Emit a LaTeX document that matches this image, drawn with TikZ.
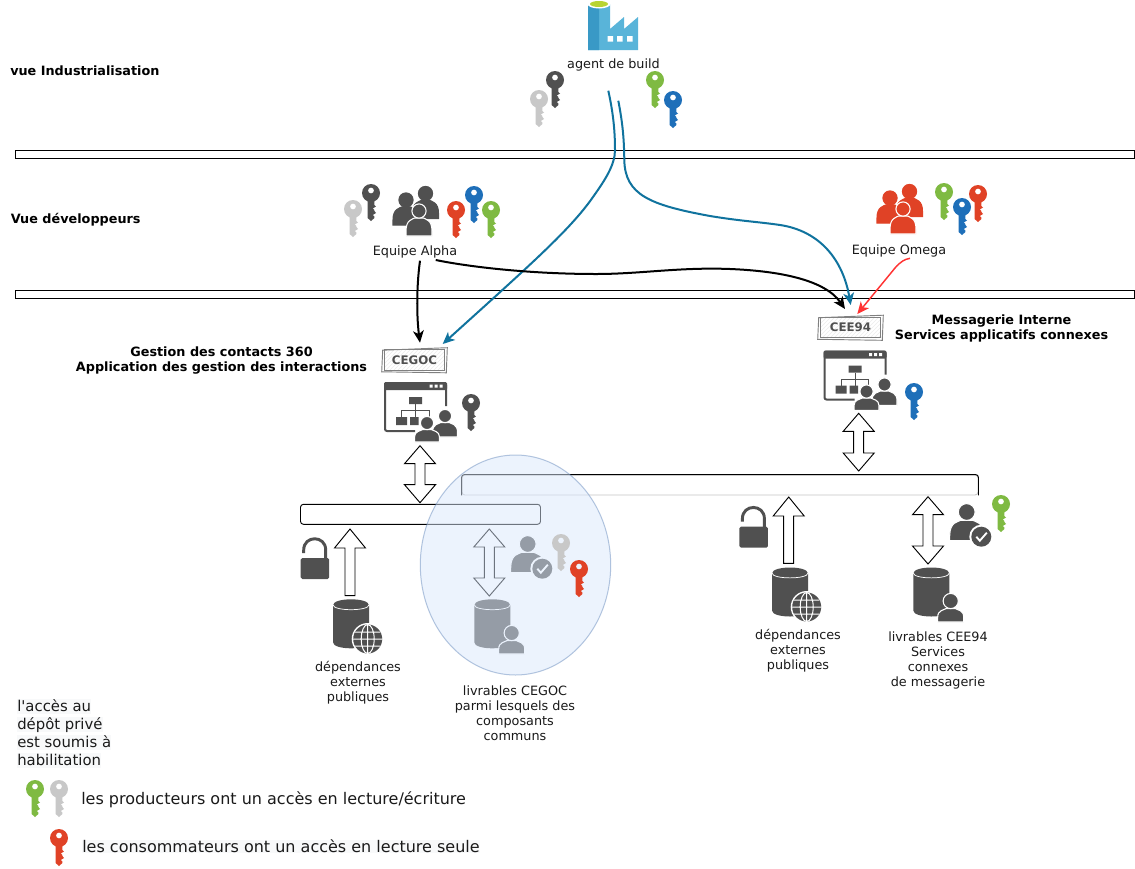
\documentclass[tikz,border=0pt]{standalone}
\usepackage{fontspec}
\setmainfont{DejaVu Sans}
\newfontfamily\legendfont{DejaVu Sans}
\usetikzlibrary{arrows.meta,patterns,calc}
\definecolor{darkic}{HTML}{505050}
\definecolor{greyk}{HTML}{C8C8C8}
\definecolor{greenk}{HTML}{7FBA42}
\definecolor{bluek}{HTML}{1E6FB9}
\definecolor{redk}{HTML}{E04226}
\definecolor{tealc}{HTML}{10739E}
\definecolor{redc}{HTML}{FF3333}
\definecolor{bubblef}{HTML}{DAE8FC}
\definecolor{bubbled}{HTML}{6C8EBF}
\definecolor{txt}{HTML}{1A1A1A}
\definecolor{hlbg}{HTML}{F8F9FA}
\definecolor{factl}{HTML}{59B4D9}
\definecolor{factd}{HTML}{3999C6}
\definecolor{factg}{HTML}{B8D432}
\newcommand\fpx[1]{\fontsize{\dimexpr#1pt*3/4\relax}{11.25pt}\selectfont}
\newcommand\hlline[1]{{\setlength{\fboxsep}{0pt}\colorbox{hlbg}{\vphantom{Apé}#1}}}
\newcommand\keyic[3]{\begin{scope}[shift={(#1,#2)}]
 \fill[#3,even odd rule] (0,0) circle[radius=9] (0,-2.5) circle[radius=3];
 \fill[#3] (-3.4,7) -- (-3.4,25) -- (0,28) -- (3.4,25) -- (3.4,23.5) -- (1.7,22) -- (5,20) -- (3.4,18) -- (3.4,17) -- (1.7,15.5) -- (5,13.5) -- (3.4,12) -- (3.4,7) -- cycle;
\end{scope}}
% x y headradius halfwidth bottom fill halo
\newcommand\personic[7]{\begin{scope}[shift={(#1,#2)}]
 \path[fill=#6,draw=#7,line width=.8pt] ({-#4},{#5}) -- ({-#4},{#5-5}) .. controls ({-#4},{#3+2}) and ({-#4*.5},{#3+2}) .. ({-#4*.35},{#3+.5}) -- ({#4*.35},{#3+.5}) .. controls ({#4*.5},{#3+2}) and ({#4},{#3+2}) .. ({#4},{#5-5}) -- ({#4},{#5}) -- cycle;
 \path[fill=#6,draw=#7,line width=.8pt] (0,0) circle[radius=#3+.6];
\end{scope}}
\newcommand\groupic[3]{\begin{scope}[shift={(#1,#2)}]
 \personic{-13}{-11}{6.5}{13}{25}{#3}{#3}
 \personic{6.5}{-17.5}{6.5}{13}{25}{#3}{#3}
 \personic{0}{0}{6.5}{13}{25}{#3}{white}
\end{scope}}
\newcommand\appic[2]{\begin{scope}[shift={(#1,#2)}]
 \draw[darkic,line width=1.5pt,rounded corners=1.5pt] (62,24) -- (62,1) -- (1,1) -- (1,49) -- (31,49);
 \fill[darkic,rounded corners=1pt] (0,0) rectangle (63,8);
 \fill[white] (45.5,2.5) rectangle (48.5,5.5) (50.5,2.5) rectangle (53.5,5.5) (55.5,2.5) rectangle (58.5,5.5);
 \fill[darkic] (25,15) rectangle (38,22) (12,35) rectangle (23,43) (26,35) rectangle (34.5,43);
 \draw[darkic,line width=.75pt] (31.5,22) -- (31.5,35) (17.5,35) -- (17.5,28.7) -- (45,28.7) -- (45,35);
 \personic{61}{34}{6}{12.5}{21}{darkic}{white}
 \personic{43}{41}{6}{12.5}{19}{darkic}{white}
\end{scope}}
\newcommand\dbic[2]{\begin{scope}[shift={(#1,#2)}]
 \fill[darkic] (0,6) -- (0,43) .. controls (0,51) and (36,51) .. (36,43) -- (36,6) .. controls (36,-2) and (0,-2) .. cycle;
 \draw[white,line width=.55pt] (0,5.5) .. controls (0,12) and (36,12) .. (36,5.5);
\end{scope}}
\newcommand\globeic[2]{\begin{scope}[shift={(#1,#2)}]
 \fill[white] (0,0) circle[radius=16];
 \fill[darkic] (0,0) circle[radius=14.5];
 \draw[white,line width=.75pt] (0,0) ellipse[x radius=6.5,y radius=14.5] (0,-14.5) -- (0,14.5) (-14.5,0) -- (14.5,0) (-12.5,-7) -- (12.5,-7) (-12.5,7) -- (12.5,7);
\end{scope}}
\newcommand\padlockic[2]{\begin{scope}[shift={(#1,#2)}]
 \draw[darkic,line width=2.2pt] (3,14) -- (3,11) .. controls (3,-4) and (25,-4) .. (25,11) -- (25,20);
 \fill[darkic,rounded corners=1.2pt] (0,19) rectangle (28.5,40);
\end{scope}}
\newcommand\checkic[2]{\begin{scope}[shift={(#1,#2)}]
 \fill[white] (0,0) circle[radius=12];
 \fill[darkic] (0,0) circle[radius=10];
 \draw[white,line width=1.4pt] (-5,0) -- (-1.5,4) -- (5.5,-4);
\end{scope}}
% centre x, top, bottom
\newcommand\dblarrow[4][]{\draw[blockarrow,#1] (#2,#3) -- ({#2+15.5},{#3+18}) -- ({#2+5},{#3+18}) -- ({#2+5},{#4-18}) -- ({#2+15.5},{#4-18}) -- (#2,#4) -- ({#2-15.5},{#4-18}) -- ({#2-5},{#4-18}) -- ({#2-5},{#3+18}) -- ({#2-15.5},{#3+18}) -- cycle;}
\newcommand\uparrowic[3]{\draw[blockarrow] (#1,#2) -- ({#1+15.5},{#2+19}) -- ({#1+5},{#2+19}) -- ({#1+5},#3) -- ({#1-5},#3) -- ({#1-5},{#2+19}) -- ({#1-15.5},{#2+19}) -- cycle;}
\newcommand\sketchframe[1]{\draw[gray,line width=.7pt] ([shift={(-1,1)}]#1.north west) -- ([shift={(2,-1.5)}]#1.north east) -- ([shift={(1,2)}]#1.south east) -- ([shift={(-2,1)}]#1.south west) -- cycle;}
\tikzset{
 x=.75pt,y=-.75pt,
 band/.style={draw=black,line width=.8pt,fill=white,minimum height=5.6pt,inner sep=0pt,anchor=west},
 barbox/.style={inner sep=0pt,rounded corners=2.2pt,fill=white,minimum height=15pt},
 blockarrow/.style={draw=black,fill=white,line width=.7pt},
 lab/.style={font=\fpx{12.8},text=txt,align=center,inner sep=0pt},
 title/.style={font=\fpx{12.8}\bfseries,text=black,align=center,inner sep=0pt},
 sketch/.style={draw=gray,line width=.7pt,pattern=north east lines,pattern color=gray!15,font=\fpx{11.8}\bfseries,text=darkic,minimum width=45.5pt,minimum height=15.5pt,inner sep=0pt},
 tealline/.style={tealc,line width=1.5pt,-{Stealth[length=9pt,width=8pt,inset=2.5pt]}},
 blackline/.style={black,line width=1.5pt,-{Stealth[length=9pt,width=8pt,inset=2.5pt]}},
 redline/.style={redc,line width=1.1pt,-{Stealth[length=9pt,width=8pt,inset=2.5pt]}},
}
\begin{document}
\begin{tikzpicture}
\useasboundingbox (0,0) rectangle (1135,868);
\fill[white] (0,0) rectangle (1135,868);
% bands
\node[band,minimum width=839.7pt] (band1) at (14.5,154.5) {};
\node[band,minimum width=839.7pt] (band2) at (14.5,294.5) {};
% factory
\fill[factl] (588,4) -- (610,4) -- (610,29) -- (624,17) -- (624,29) -- (638,17) -- (638,50) -- (588,50) -- cycle;
\fill[factd] (588,4) -- (599,6) -- (599,50) -- (588,50) -- cycle;
\fill[white] (599,4) ellipse[x radius=11.5,y radius=4.5];
\fill[factg] (599,4) ellipse[x radius=9,y radius=3];
\fill[white] (607.5,36) rectangle (613,41.5) (617,36) rectangle (622.5,41.5) (627,36) rectangle (632.5,41.5);
% top-level texts
\node[lab] (build) at (613.5,65) {agent de build};
\node[title,anchor=west] (vindus) at (10,71) {vue Industrialisation};
\node[title,anchor=west] (vdev) at (10.5,220) {Vue développeurs};
\keyic{555}{80}{darkic}\keyic{539}{99}{greyk}\keyic{655}{80}{greenk}\keyic{673}{100}{bluek}
% teams
\groupic{419}{211}{darkic}
\keyic{353}{209}{greyk}\keyic{371}{193}{darkic}\keyic{456}{210}{redk}\keyic{474}{195}{bluek}\keyic{491}{210}{greenk}
\node[lab] (alpha) at (415,252) {Equipe Alpha};
\groupic{903}{209}{redk}
\keyic{944}{192}{greenk}\keyic{978}{194}{redk}\keyic{962}{207}{bluek}
\node[lab] (omega) at (899,251) {Equipe Omega};
% repositories
\node[sketch] (cegoc) at (414.5,360) {CEGOC};
\sketchframe{cegoc}
\node[sketch] (cee) at (850.5,327.5) {CEE94};
\sketchframe{cee}
\node[title] (gestion) at (221.5,361) {Gestion des contacts 360\\Application des gestion des interactions};
\node[title] (messag) at (1001.5,328) {Messagerie Interne\\Services applicatifs connexes};
\appic{384}{382}\keyic{471}{403}{darkic}
\appic{823.5}{350.5}\keyic{914}{392}{bluek}
\dblarrow{420}{445.7}{502.7}
\dblarrow{858.7}{413.3}{471}
% bars
\node[barbox,draw=black,line width=.7pt,minimum width=180pt] (lbar) at (420.5,514.3) {};
\node[barbox,draw=gray!45,line width=.7pt,minimum width=387pt] (rbar) at (720,485) {};
\draw[black,line width=.7pt,rounded corners=2.2pt] (rbar.south west) -- (rbar.north west) -- (rbar.north east) -- (rbar.south east);
% left deliveries
\uparrowic{350}{529}{595.7}
\padlockic{300.7}{539}
\dbic{333}{599.3}\globeic{367.7}{639}
\node[lab] (depl) at (358,683) {dépendances\\externes\\publiques};
% bubble content
\dblarrow{489.3}{529}{596}
\dbic{474.3}{599.3}\personic{511.7}{633}{7}{13}{21}{darkic}{white}
\personic{527.7}{544}{7.8}{17}{28.7}{darkic}{white}\checkic{542.3}{568.7}
\fill[bubblef,opacity=.5] (515.5,565) ellipse[x radius=95.2,y radius=110];
\draw[bubbled,opacity=.5,line width=.75pt] (515.5,565) ellipse[x radius=95.2,y radius=110];
\keyic{561}{543}{greyk}\keyic{579}{569}{redk}
\node[lab] (livcegoc) at (515,713) {livrables CEGOC\\parmi lesquels des\\composants\\communs};
% right deliveries
\uparrowic{788.7}{497}{563.3}
\padlockic{739.4}{507.7}
\dbic{772}{567.5}\globeic{806.7}{607}
\node[lab] (depr) at (798,651) {dépendances\\externes\\publiques};
\dblarrow{928}{496.7}{564}
\dbic{913.3}{567.5}\personic{950.7}{601}{7}{13}{21}{darkic}{white}
\personic{966.7}{512}{7.8}{17}{28.7}{darkic}{white}\checkic{981.3}{536.7}
\keyic{1001}{504}{greenk}
\node[lab] (livcee) at (938,660) {livrables CEE94\\Services\\connexes\\de messagerie};
% connectors
\draw[tealline] ([shift={(-5.2,25.7)}]build.center) .. controls (613,112) and (615,130) .. (615,150) .. controls (615,165) and (605,180) .. (593,197) .. controls (570,230) and (530,265) .. ([shift={(28.2,-16)}]cegoc.center);
\draw[tealline] ([shift={(4.8,35.7)}]build.center) .. controls (623,125) and (624,140) .. (624.3,160) .. controls (625,195) and (650,205) .. (710,216) .. controls (740,221) and (760,222) .. (780,225) .. controls (820,231) and (843,260) .. ([shift={(.2,-22.5)}]cee.center);
\draw[blackline] ([shift={(5,8.7)}]alpha.center) .. controls (416,290) and (417,320) .. ([shift={(5.5,-17.3)}]cegoc.center);
\draw[blackline] ([shift={(20.7,8)}]alpha.center) .. controls (470,267) and (530,274) .. (596.7,274) .. controls (640,274) and (680,267) .. (730,269) .. controls (780,271) and (825,280) .. ([shift={(-5.5,-18.5)}]cee.center);
\draw[redline] ([shift={(11,7.3)}]omega.center) .. controls (905,259) and (900,262) .. (895,268) -- ([shift={(6.8,-13.5)}]cee.center);
% legend
\node[font=\legendfont\fontsize{11.15}{13.5}\selectfont,text=txt,align=left,inner sep=0pt,anchor=north west] (legend) at (17,699) {%
 \hlline{l'accès au}\\\hlline{dépôt privé}\\\hlline{est soumis à}\\\hlline{habilitation}};
\keyic{35}{789}{greenk}\keyic{59}{789}{greyk}\keyic{59}{838}{redk}
\node[font=\fpx{16},text=txt,inner sep=0pt,anchor=west] (prod) at (81,800) {les producteurs ont un accès en lecture/écriture};
\node[font=\fpx{16},text=txt,inner sep=0pt,anchor=west,fill=hlbg] (cons) at (82,846) {les consommateurs ont un accès en lecture seule};
\end{tikzpicture}
\end{document}
